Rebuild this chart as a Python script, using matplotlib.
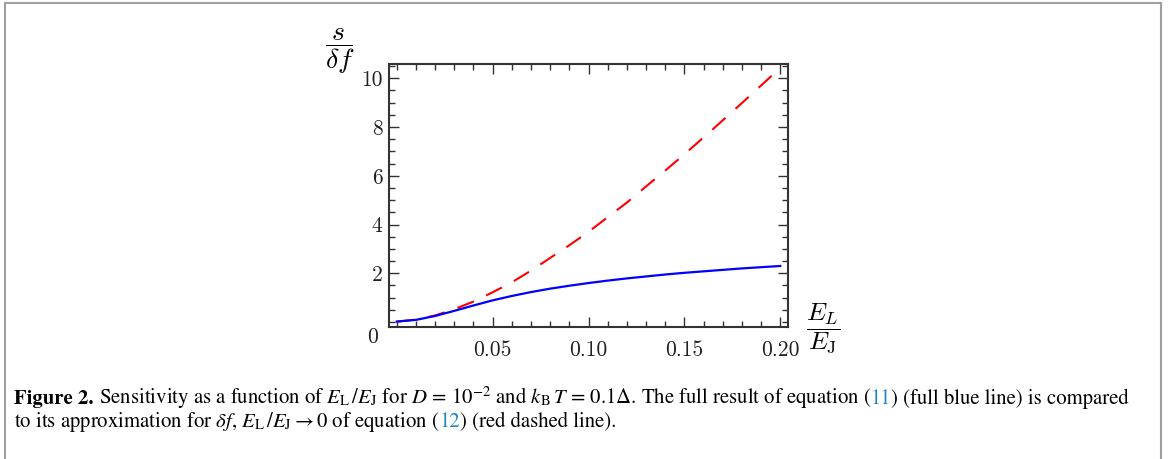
import matplotlib
matplotlib.use("Agg")
from matplotlib import pyplot as plt
from matplotlib.lines import Line2D
from matplotlib.ticker import MultipleLocator, FixedLocator

# E_L / E_J on the x axis
el_ej = [0.0, 0.01, 0.02, 0.03, 0.04, 0.05, 0.06, 0.07, 0.08, 0.09, 0.10,
         0.11, 0.12, 0.13, 0.14, 0.15, 0.16, 0.17, 0.18, 0.19, 0.20]
# full result, eq. (11)
s_full = [0.02, 0.09, 0.25, 0.46, 0.68, 0.89, 1.07, 1.23, 1.37, 1.49, 1.60,
          1.70, 1.79, 1.87, 1.95, 2.02, 2.08, 2.14, 2.20, 2.25, 2.30]
# approximation, eq. (12)
s_approx = [0.02, 0.10, 0.27, 0.53, 0.84, 1.22, 1.63, 2.11, 2.63, 3.15, 3.70,
            4.30, 4.90, 5.56, 6.21, 6.88, 7.57, 8.27, 8.98, 9.70, 10.42]

x_ticks = [0.05, 0.10, 0.15, 0.20]
x_labels = ['0.05', '0.10', '0.15', '0.20']
y_ticks = [2, 4, 6, 8, 10]
y_labels = ['2', '4', '6', '8', '10']

W, H = 1168, 459
fig = plt.figure(figsize=(W / 100, H / 100), dpi=100)
ax = fig.add_axes([389.3 / W, 1 - 326.7 / H, (787.7 - 389.3) / W, (326.7 - 64.3) / H])

ax.plot(el_ej, s_approx, color='#ff0000', lw=1.5, dashes=(8.5, 6.5))
ax.plot(el_ej, s_full, color='#0000ff', lw=1.6)

ax.set_xlim(-0.0039, 0.2039)
ax.set_ylim(-0.19, 10.57)

ax.xaxis.set_major_locator(FixedLocator(x_ticks))
ax.set_xticklabels(x_labels)
ax.yaxis.set_major_locator(FixedLocator(y_ticks))
ax.set_yticklabels(y_labels)
ax.xaxis.set_minor_locator(MultipleLocator(0.01))
ax.yaxis.set_minor_locator(MultipleLocator(0.5))

ax.tick_params(which='both', direction='in', top=True, right=True, width=1.0, color='#333333')
ax.tick_params(which='major', length=7.5)
ax.tick_params(which='minor', length=4.2)
ax.tick_params(axis='x', pad=10, labelsize=15.5)
ax.tick_params(axis='y', pad=5, labelsize=15.5)
for lab in ax.get_xticklabels() + ax.get_yticklabels():
    lab.set_family('cmr10')
    lab.set_color('#222222')
for sp in ax.spines.values():
    sp.set_linewidth(1.5)
    sp.set_color('#333333')

fig.text(373 / W, 1 - 337 / H, '0', family='cmr10', size=15.5, color='#222222',
         ha='center', va='center')
fig.text(340 / W, 1 - 51 / H, r'$\dfrac{s}{\delta f}$', math_fontfamily='cm',
         size=20, ha='center', va='center')
fig.text(823 / W, 1 - 329 / H, r'$\dfrac{E_L}{E_\mathrm{J}}$', math_fontfamily='cm',
         size=18.5, ha='center', va='center')

# caption, written piece by piece so the equation numbers can be blue
link = '#1f8ac0'
line1 = [
    ('Figure 2.', 'black', 'bold'),
    (r' Sensitivity as a function of $E_\mathrm{L}\,/E_\mathrm{J}$ for $D\,=\,10^{-2}$ and '
     r'$k_\mathrm{B}\,T\,=\,0.1\mathit{\Delta}$. The full result of equation (', 'black', 'normal'),
    ('11', link, 'normal'),
    (') (full blue line) is compared', 'black', 'normal'),
]
line2 = [
    (r'to its approximation for $\delta f$, $E_\mathrm{L}\,/E_\mathrm{J}\rightarrow 0$ of equation (',
     'black', 'normal'),
    ('12', link, 'normal'),
    (') (red dashed line).', 'black', 'normal'),
]

renderer = fig.canvas.get_renderer()


def caption_line(parts, x0, y0, size):
    x = x0
    for s, c, w in parts:
        t = fig.text(x / W, 1 - y0 / H, s, color=c, weight=w, family='STIXGeneral',
                     math_fontfamily='stix', size=size, ha='left', va='baseline')
        x = t.get_window_extent(renderer).x1
    return x


# fit line 1 into the width it has in the reference
probe = fig.text(0, 0, ''.join(p[0] for p in line1), family='STIXGeneral',
                 math_fontfamily='stix', size=12)
wid = probe.get_window_extent(renderer).width
probe.remove()
cap_size = 12 * (1127 - 14) / wid

caption_line(line1, 14, 404, cap_size)
caption_line(line2, 14, 427, cap_size)

# thin gray frame around the figure block
gray = '#a0a0a0'
fig.add_artist(Line2D([5 / W, 1161 / W], [1 - 3 / H, 1 - 3 / H], color=gray, lw=1.5))
fig.add_artist(Line2D([5 / W, 5 / W], [0, 1 - 3 / H], color=gray, lw=1.5))
fig.add_artist(Line2D([1161 / W, 1161 / W], [0, 1 - 3 / H], color=gray, lw=1.5))

fig.savefig('out.png', dpi=100)
